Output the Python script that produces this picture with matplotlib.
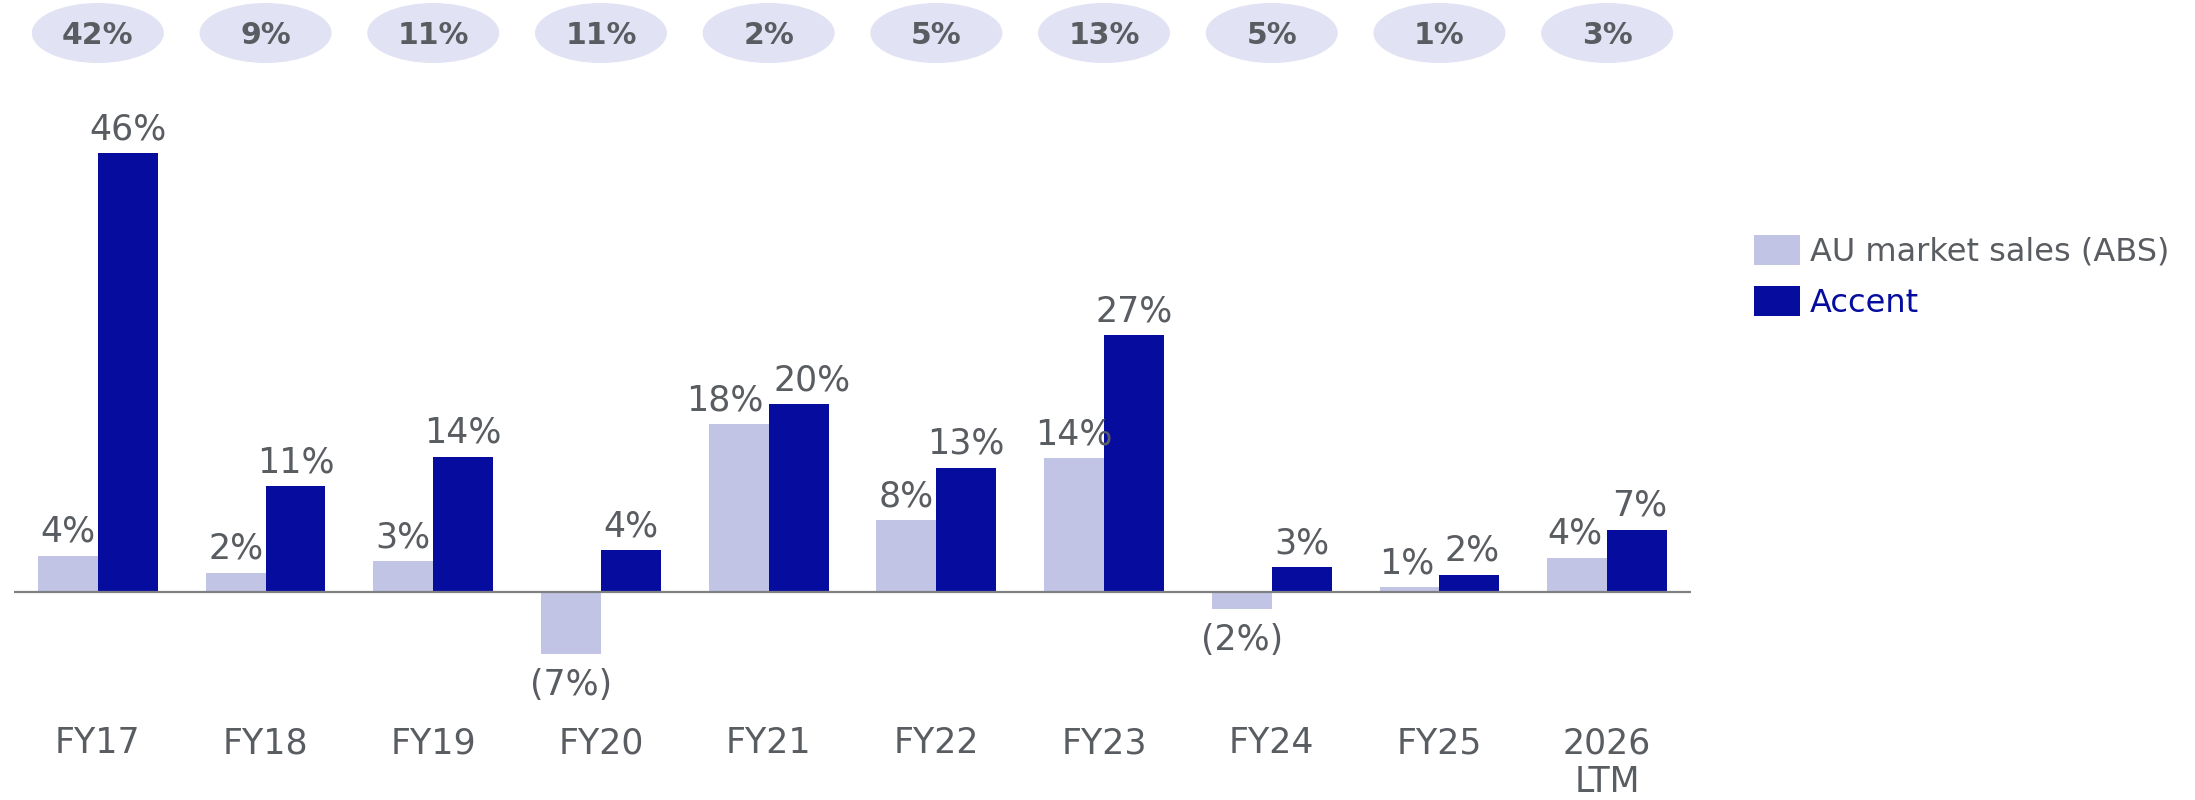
import matplotlib
matplotlib.use("Agg")
import matplotlib.pyplot as plt
from matplotlib.patches import Ellipse, Patch

# ---- data ----
categories = ["FY17", "FY18", "FY19", "FY20", "FY21", "FY22", "FY23", "FY24", "FY25", "2026\nLTM"]
market_vals = [3.8, 2.0, 3.2, -6.5, 17.6, 7.5, 14.0, -1.8, 0.5, 3.6]
accent_vals = [46.0, 11.1, 14.2, 4.4, 19.7, 13.0, 26.9, 2.6, 1.8, 6.5]
market_labels = ["4%", "2%", "3%", "(7%)", "18%", "8%", "14%", "(2%)", "1%", "4%"]
accent_labels = ["46%", "11%", "14%", "4%", "20%", "13%", "27%", "3%", "2%", "7%"]
gap_labels = ["42%", "9%", "11%", "11%", "2%", "5%", "13%", "5%", "1%", "3%"]
series_names = ["AU market sales (ABS)", "Accent"]

# ---- style ----
DARK = "#060D9E"
LIGHT = "#C2C4E6"
PILL = "#E1E2F3"
GRAY = "#595D61"
AXIS = "#7F8082"
plt.rcParams['font.family'] = ['DejaVu Sans']

W, H = 2195, 800
fig = plt.figure(figsize=(W / 100, H / 100), dpi=100)
ax = fig.add_axes([14 / W, 0, (1691 - 14) / W, 1])
px_per_unit = 9.54
ax.set_xlim(-0.5, len(categories) - 0.5)
ax.set_ylim(-208 / px_per_unit, 592 / px_per_unit)
ax.axis("off")

bw = 0.357
xs = list(range(len(categories)))
ax.bar([x - bw / 2 for x in xs], market_vals, bw, color=LIGHT, zorder=2)
ax.bar([x + bw / 2 for x in xs], accent_vals, bw, color=DARK, zorder=2)
ax.axhline(0, color=AXIS, lw=1.6, zorder=3)

lab_fs = 25
texts = []
for x, v, lab in [(x - bw / 2, v, l) for x, v, l in zip(xs, market_vals, market_labels)] + \
                 [(x + bw / 2, v, l) for x, v, l in zip(xs, accent_vals, accent_labels)]:
    if v >= 0:
        t = ax.annotate(lab, xy=(x, v), xytext=(0, 14), textcoords="offset pixels",
                        ha="center", va="baseline", fontsize=lab_fs, color=GRAY)
    else:
        t = ax.annotate(lab, xy=(x, v), xytext=(0, -14), textcoords="offset pixels",
                        ha="center", va="top", fontsize=lab_fs, color=GRAY)
    texts.append(t)

# nudge overlapping pairs apart
fig.canvas.draw()
r = fig.canvas.get_renderer()
n = len(categories)
for i in range(n):
    ta = texts[i]
    tb = texts[i + n]
    ba = ta.get_window_extent(r)
    bb = tb.get_window_extent(r)
    if ba.x1 > bb.x0 - 8 and ba.y1 > bb.y0 and bb.y1 > ba.y0:
        shift = (ba.x1 - bb.x0 + 10) / 2
        ta.xyann = (ta.xyann[0] - shift, ta.xyann[1])
        tb.xyann = (tb.xyann[0] + shift, tb.xyann[1])

# category labels
for x, c in zip(xs, categories):
    ax.annotate(c, xy=(x, 0), xytext=(0, -134), textcoords="offset pixels",
                ha="center", va="top", fontsize=lab_fs, color=GRAY, linespacing=1.2)

# pills on top
pill_y = (592 - 33) / px_per_unit
for x, g in zip(xs, gap_labels):
    ax.add_patch(Ellipse((x, pill_y), 132 / 167.7, 60 / px_per_unit, color=PILL, lw=0, zorder=2))
    ax.text(x, pill_y, g, ha="center", va="center_baseline", fontsize=21.5, fontweight="bold",
            color=GRAY, zorder=3)

# legend
fs_leg = 23
fpx = fs_leg * 100 / 72
handles = [Patch(color=LIGHT, lw=0), Patch(color=DARK, lw=0)]
leg = fig.legend(handles, series_names, loc="upper left",
                 bbox_to_anchor=(1754 / W, 1 - 235 / H), frameon=False, fontsize=fs_leg,
                 handlelength=46 / fpx, handleheight=34 / fpx, handletextpad=10 / fpx,
                 labelspacing=0.58, borderpad=0, borderaxespad=0)
leg.get_texts()[0].set_color(GRAY)
leg.get_texts()[1].set_color(DARK)

fig.savefig("out.png", dpi=100)
